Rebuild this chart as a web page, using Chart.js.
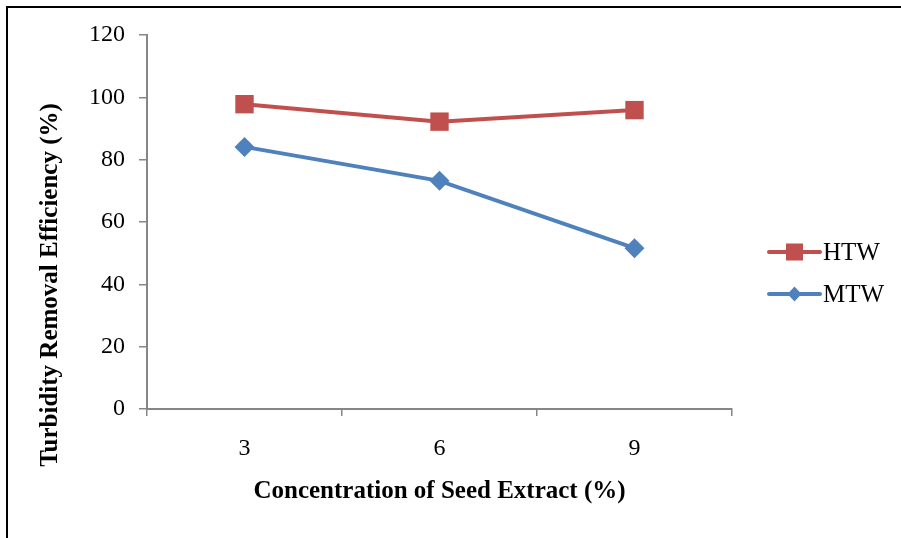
<!DOCTYPE html>
<html>
<head>
<meta charset="utf-8">
<script src="https://cdn.jsdelivr.net/npm/chart.js@4/dist/chart.umd.min.js"></script>
<style>
  html, body { margin: 0; padding: 0; background: #fff; }
  #okvir { position: absolute; left: 6px; top: 6px; width: 895px; height: 532px;
           border-top: 2px solid #000; border-left: 2px solid #000; }
  #graf { position: absolute; left: 0; top: 0; }
</style>
</head>
<body>
<div id="okvir"></div>
<canvas id="graf" width="901" height="538"></canvas>
<script>
const koncentracije = ['3', '6', '9'];
const htw = [97.8, 92.2, 95.9];
const mtw = [84.1, 73.2, 51.6];
const y_oznake = [0, 20, 40, 60, 80, 100, 120];
const naslov_y = 'Turbidity Removal Efficiency (%)';

let rdeca = '#C0504D';
let modra = '#4F81BD';
let siva = '#868686';
let pisava = "'Liberation Serif', 'Times New Roman', serif";

// legenda: crta + znak + besedilo desno od grafa, pa se naslov osi y
const legenda = {
    id: 'legenda',
    afterDraw(chart) {
        const ctx = chart.ctx;
        const x0 = chart.chartArea.right + 37;
        const yc = chart.height / 2;
        chart.data.datasets.forEach((ds, i) => {
            const y = yc - 17 + i * 42;
            ctx.save();
            ctx.strokeStyle = ds.borderColor;
            ctx.lineWidth = 4;
            ctx.lineCap = 'round';
            ctx.beginPath();
            ctx.moveTo(x0, y);
            ctx.lineTo(x0 + 51, y);
            ctx.stroke();
            ctx.fillStyle = ds.borderColor;
            const cx = x0 + 25.5;
            if (ds.pointStyle === 'rect') {
                ctx.fillRect(cx - 8.5, y - 8.5, 17, 17);
            } else {
                ctx.beginPath();
                ctx.moveTo(cx, y - 7.5);
                ctx.lineTo(cx + 7, y);
                ctx.lineTo(cx, y + 7.5);
                ctx.lineTo(cx - 7, y);
                ctx.closePath();
                ctx.fill();
            }
            ctx.fillStyle = '#000';
            ctx.font = '25px ' + pisava;
            ctx.textBaseline = 'middle';
            ctx.fillText(ds.label, x0 + 54, y + 1);
            ctx.restore();
        });

        ctx.save();
        ctx.translate(51, yc + 16);
        ctx.rotate(-Math.PI / 2);
        ctx.fillStyle = '#000';
        ctx.font = 'bold 25px ' + pisava;
        ctx.textAlign = 'center';
        ctx.textBaseline = 'middle';
        ctx.fillText(naslov_y, 0, 0);
        ctx.restore();
    }
};

const platno = document.getElementById('graf').getContext('2d');
const graf = new Chart(platno, {
    type: 'line',
    data: {
        labels: koncentracije,
        datasets: [{
            label: 'HTW',
            data: htw,
            borderColor: rdeca,
            backgroundColor: rdeca,
            borderWidth: 4,
            pointStyle: 'rect',
            pointRadius: 13,
            pointBorderWidth: 0,
            tension: 0,
            fill: false
        }, {
            label: 'MTW',
            data: mtw,
            borderColor: modra,
            backgroundColor: modra,
            borderWidth: 4,
            pointStyle: 'rectRot',
            pointRadius: 10,
            pointBorderWidth: 0,
            tension: 0,
            fill: false
        }]
    },
    options: {
        responsive: false,
        animation: false,
        layout: { padding: { left: 38, top: 35, right: 169, bottom: 0 } },
        plugins: {
            legend: { display: false },
            tooltip: { enabled: false }
        },
        scales: {
            x: {
                offset: true,
                afterFit: (s) => { s.height = 129; },
                border: { display: true, color: siva, width: 2 },
                grid: { offset: true, drawOnChartArea: false, drawTicks: true, tickLength: 7, color: siva, lineWidth: 1.5 },
                ticks: { color: '#000', padding: 18, font: { family: pisava, size: 24 } },
                title: {
                    display: true,
                    text: 'Concentration of Seed Extract (%)',
                    color: '#000',
                    padding: { top: 0, bottom: 31 },
                    font: { family: pisava, size: 25, weight: 'bold' }
                }
            },
            y: {
                min: 0,
                max: 120,
                afterFit: (s) => { s.width = 109; },
                afterBuildTicks: (s) => { s.ticks = y_oznake.map(v => ({ value: v })); },
                border: { display: true, color: siva, width: 2 },
                grid: { drawOnChartArea: false, drawTicks: true, tickLength: 8, color: siva, lineWidth: 1.5 },
                ticks: { color: '#000', padding: 14, font: { family: pisava, size: 24 } },
                title: { display: false }
            }
        }
    },
    plugins: [legenda]
});
</script>
</body>
</html>
